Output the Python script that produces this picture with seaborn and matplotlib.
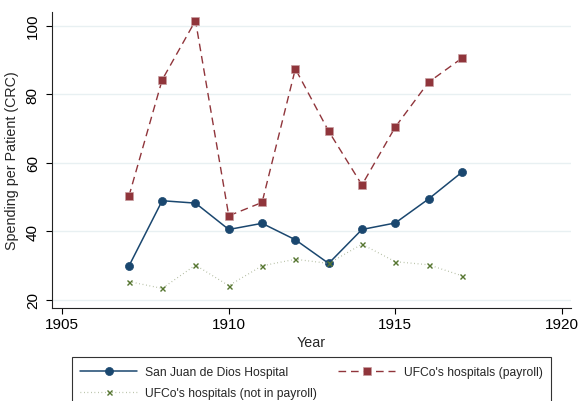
import pandas as pd
import matplotlib.pyplot as plt
import seaborn as sns

# Values
years = [1907, 1908, 1909, 1910, 1911, 1912, 1913, 1914, 1915, 1916, 1917]
san_juan = [29.8, 48.9, 48.2, 40.5, 42.3, 37.5, 30.6, 40.5, 42.4, 49.4, 57.2]
ufco_payroll = [50.2, 84.2, 101.5, 44.5, 48.4, 87.4, 69.2, 53.5, 70.4, 83.5, 90.5]
ufco_not_payroll = [25.3, 23.3, 30.1, 24.1, 29.9, 31.8, 30.6, 36.2, 31.1, 30.2, 27.0]

x_ticks = [1905, 1910, 1915, 1920]
y_ticks = [20, 40, 60, 80, 100]

df = pd.DataFrame({'year': years, 'sjdd': san_juan,
                   'payroll': ufco_payroll, 'not_payroll': ufco_not_payroll})

sns.set_style('white')
plt.rcParams['font.family'] = ['Liberation Sans', 'DejaVu Sans']

fig = plt.figure(figsize=(5.78, 4.02), dpi=100)
ax = fig.add_axes([0.0905, 0.2306, 0.8969, 0.7378])

navy = '#1a476f'
maroon = '#90353b'
green = '#55752f'

sns.lineplot(data=df, x='year', y='sjdd', ax=ax, color=navy, lw=1.1,
             marker='o', markersize=5.8, markeredgecolor=navy,
             markeredgewidth=0.5, label='San Juan de Dios Hospital')
sns.lineplot(data=df, x='year', y='payroll', ax=ax, color=maroon, lw=1.0,
             marker='s', markersize=5.6, markeredgecolor='#c79ea1',
             markeredgewidth=0.5, dashes=(5.5, 3.5),
             label="UFCo's hospitals (payroll)")
sns.lineplot(data=df, x='year', y='not_payroll', ax=ax, color='#a7b393', lw=0.9,
             marker='x', markersize=3.6, markeredgecolor=green,
             markeredgewidth=1.0, dashes=(0.6, 2.2),
             label="UFCo's hospitals (not in payroll)")

ax.set_xlim(1904.70, 1920.27)
ax.set_ylim(17.49, 104.09)
ax.set_xticks(x_ticks)
ax.set_yticks(y_ticks)
ax.tick_params(axis='both', labelsize=11, length=4, width=0.8, direction='out',
               left=True, bottom=True, colors='black')
ax.tick_params(axis='y', pad=5)
ax.tick_params(axis='x', pad=2)
for lab in ax.get_yticklabels():
    lab.set_rotation(90)
    lab.set_va('center')
ax.grid(axis='y', color='#e8f0f2', lw=1)
ax.grid(axis='x', visible=False)
for side in ['top', 'right']:
    ax.spines[side].set_visible(False)
for side in ['left', 'bottom']:
    ax.spines[side].set_color('#222222')
    ax.spines[side].set_linewidth(0.8)

ax.set_xlabel('Year', fontsize=10.3, labelpad=3)
ax.set_ylabel('Spending per Patient (CRC)', fontsize=10.3, labelpad=5)

# Legend below, two columns, row-wise order
handles, labels = ax.get_legend_handles_labels()
ax.get_legend().remove()
order = [0, 2, 1]
leg = fig.legend([handles[i] for i in order], [labels[i] for i in order],
                 loc='upper left', mode='expand', ncol=2,
                 bbox_to_anchor=(71.7 / 578, -0.5, (551 - 71.7) / 578, 0.5 + 43.7 / 402),
                 borderaxespad=0, fontsize=8.7, handlelength=4.7,
                 handletextpad=0.7, borderpad=0.7,
                 frameon=True, fancybox=False, edgecolor='black',
                 labelspacing=0.8, columnspacing=2)
leg.get_frame().set_linewidth(0.8)

fig.savefig('out.png', dpi=100)
